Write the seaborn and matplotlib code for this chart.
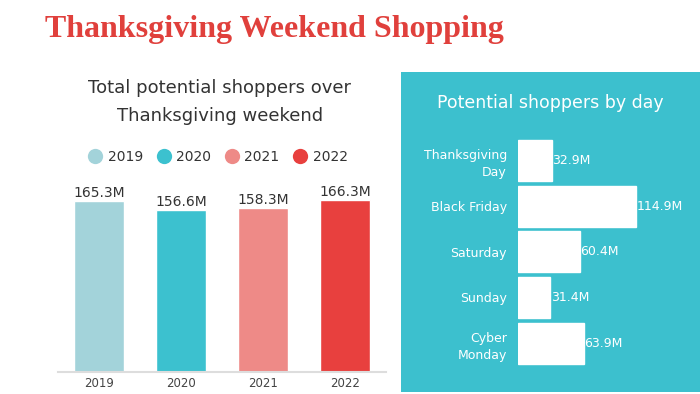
import matplotlib
matplotlib.use('Agg')
import matplotlib.pyplot as plt
import matplotlib.patches as mpatches
import seaborn as sns
import pandas as pd

# data
years = ['2019', '2020', '2021', '2022']
total_shoppers = [165.3, 156.6, 158.3, 166.3]
year_colors = ['#a3d3da', '#3cc1cf', '#ee8a87', '#e8403e']

days = ['Thanksgiving\nDay', 'Black Friday', 'Saturday', 'Sunday', 'Cyber\nMonday']
day_shoppers = [32.9, 114.9, 60.4, 31.4, 63.9]

teal = '#3cc0ce'
title_red = '#e0403c'

sns.set_style('white')
plt.rcParams['font.family'] = ['DejaVu Sans']

W, H = 700, 394
fig = plt.figure(figsize=(W / 100, H / 100), dpi=100)
fig.patch.set_facecolor('white')


def fx(px):
    return px / W


def fy(py):
    return 1 - py / H


# teal panel behind the right chart
fig.patches.append(mpatches.Rectangle((fx(401), fy(392)), fx(700) - fx(401), fy(72) - fy(392),
                                      transform=fig.transFigure, facecolor=teal,
                                      edgecolor='none', zorder=-1))

fig.text(fx(45), fy(30), 'Thanksgiving Weekend Shopping', color=title_red,
         fontsize=23, fontweight='bold', family='Liberation Serif', va='center', ha='left')

# ---- left: totals by year
df_year = pd.DataFrame({'year': years, 'shoppers': total_shoppers})
ax1 = fig.add_axes([fx(58), fy(371.7), fx(386) - fx(58), fy(186) - fy(371.7)])
sns.barplot(data=df_year, x='year', y='shoppers', hue='year', palette=year_colors,
            width=0.61, legend=False, ax=ax1, saturation=1)
ax1.set_ylim(0, 180)
ax1.set_xlim(-0.5, 3.5)
for bar, v in zip(ax1.patches, total_shoppers):
    ax1.text(bar.get_x() + bar.get_width() / 2, v + 1.5, f'{v}M', ha='center', va='bottom',
             fontsize=10, color='#333333')
ax1.set_xlabel('')
ax1.set_ylabel('')
ax1.set_yticks([])
ax1.tick_params(axis='x', length=0, labelsize=8.5, colors='#444444', pad=4)
for s in ['top', 'right', 'left']:
    ax1.spines[s].set_visible(False)
ax1.spines['bottom'].set_color('#dddddd')
ax1.spines['bottom'].set_linewidth(1.5)

fig.text(fx(220), fy(88), 'Total potential shoppers over', ha='center', va='center',
         fontsize=13, color='#333333')
fig.text(fx(220), fy(116), 'Thanksgiving weekend', ha='center', va='center',
         fontsize=13, color='#333333')

handles = [plt.Line2D([], [], marker='o', linestyle='', markersize=11,
                      markerfacecolor=c, markeredgecolor='none') for c in year_colors]
fig.legend(handles, years, loc='center', bbox_to_anchor=(fx(218), fy(157)), ncol=4,
           frameon=False, fontsize=10, handletextpad=0.4, columnspacing=1.0,
           handlelength=1.0, labelcolor='#333333')

# ---- right: shoppers by day
df_day = pd.DataFrame({'day': days, 'shoppers': day_shoppers})
ax2 = fig.add_axes([fx(518), fy(366), fx(690) - fx(518), fy(137.6) - fy(366)])
sns.barplot(data=df_day, y='day', x='shoppers', color='white', saturation=1,
            width=0.9, ax=ax2)
ax2.set_xlim(0, 167.5)
ax2.set_ylim(4.5, -0.5)
ax2.patch.set_alpha(0)
for bar, v in zip(ax2.patches, day_shoppers):
    ax2.text(v + 0.5, bar.get_y() + bar.get_height() / 2, f'{v}M', ha='left', va='center',
             fontsize=9, color='white')
ax2.set_xlabel('')
ax2.set_ylabel('')
ax2.set_xticks([])
ax2.tick_params(axis='y', length=0, labelsize=9, colors='white', pad=8)
for lbl in ax2.get_yticklabels():
    lbl.set_linespacing(1.4)
for s in ax2.spines.values():
    s.set_visible(False)

fig.text(fx(550), fy(103), 'Potential shoppers by day', ha='center', va='center',
         fontsize=12.5, color='white')

fig.savefig('out.png', dpi=100)
